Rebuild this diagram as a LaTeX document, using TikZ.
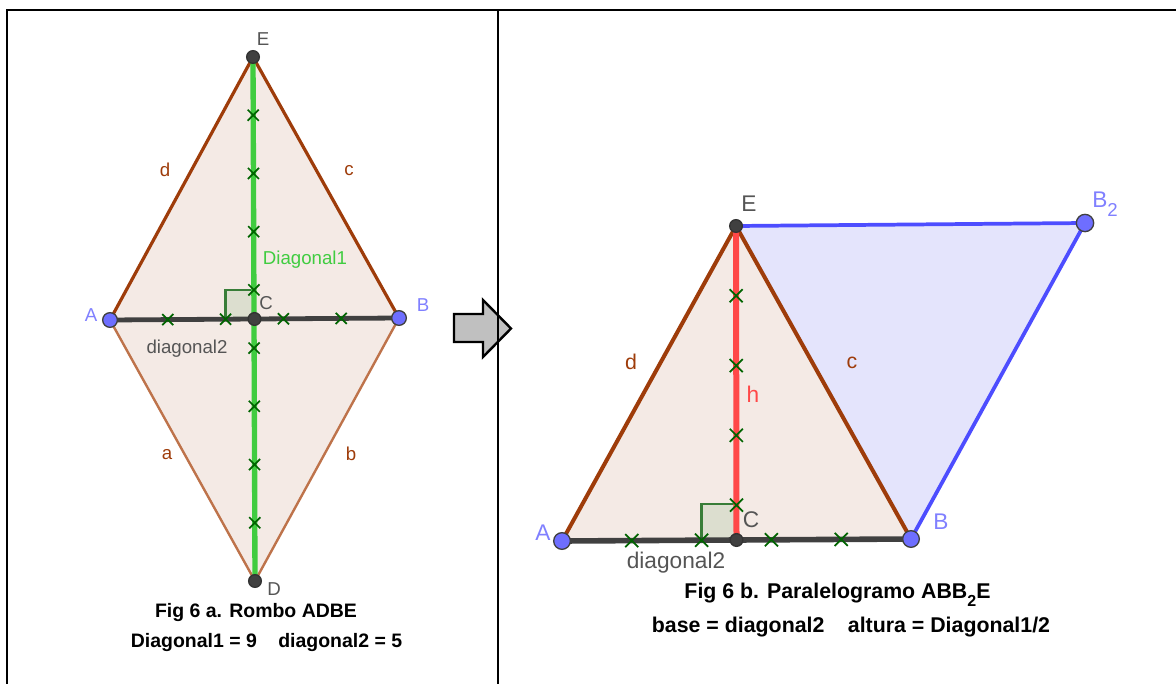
\documentclass[tikz,border=0pt]{standalone}
\usepackage{fontspec}
\setmainfont{Liberation Sans}
\usetikzlibrary{calc,shapes.misc}
\definecolor{edgebrown}{RGB}{158,60,10}
\definecolor{edgelight}{RGB}{190,115,75}
\definecolor{rhombfill}{RGB}{244,234,229}
\definecolor{paralfill}{RGB}{228,228,252}
\definecolor{blueline}{RGB}{77,77,255}
\definecolor{diagreen}{RGB}{64,204,64}
\definecolor{tickgreen}{RGB}{0,100,0}
\definecolor{anglegreen}{RGB}{56,125,56}
\definecolor{sqfill}{RGB}{220,222,207}
\definecolor{basegray}{RGB}{64,64,64}
\definecolor{heightred}{RGB}{255,72,72}
\definecolor{ptblue}{RGB}{110,110,255}
\definecolor{ptdark}{RGB}{64,64,64}
\definecolor{lblblue}{RGB}{128,128,255}
\definecolor{lblgray}{RGB}{85,85,85}
\definecolor{arrowgray}{RGB}{192,192,192}

\begin{document}
\begin{tikzpicture}[
  x=0.75pt, y=-0.75pt,
  font=\fontsize{14}{17}\selectfont,
  rhombedge/.style={draw=edgebrown, line width=2.4pt, line cap=round},
  rhomblow/.style={draw=edgelight, line width=1.8pt, line cap=round},
  paraledge/.style={draw=edgebrown, line width=3pt, line cap=round},
  bluedge/.style={draw=blueline, line width=2.8pt, line cap=round},
  longdiag/.style={draw=diagreen, line width=4pt},
  shortdiag/.style={draw=basegray, line width=3.6pt},
  heightline/.style={draw=heightred, line width=4.5pt},
  xmark/.style={cross out, draw=tickgreen, line width=1.3pt, minimum size=7pt, inner sep=0pt},
  rangle/.style={draw=anglegreen, fill=sqfill, line width=2pt},
  bluept/.style={circle, draw=black!75, fill=ptblue, line width=1pt, inner sep=0pt, minimum size=11pt},
  darkpt/.style={circle, draw=black!80, fill=ptdark, line width=1pt, inner sep=0pt, minimum size=9.5pt},
  vlabel/.style={text=lblgray, inner sep=0pt},
  bluelabel/.style={text=lblblue, inner sep=0pt},
  sidelabel/.style={text=edgebrown, inner sep=0pt},
  biglabel/.style={font=\fontsize{17}{20}\selectfont},
  caption/.style={font=\bfseries\fontsize{14.6}{17}\selectfont, anchor=base, inner sep=0pt},
  bigcaption/.style={caption, font=\bfseries\fontsize{16}{19}\selectfont},
  frame/.style={draw=black, line width=2pt}
]
\useasboundingbox (0,0) rectangle (1176,684);

% Rombo ADBE (left panel)
\coordinate (rA) at (110,320);
\coordinate (rB) at (399,318);
\coordinate (rE) at (253,57);
\coordinate (rD) at (255,581);
\coordinate (rC) at ($(rA)!0.5!(rB)$);

\fill[rhombfill] (rA) -- (rD) -- (rB) -- (rE) -- cycle;
\filldraw[rangle] (rC) rectangle ++(-29,-29);
\draw[rhombedge] (rA) -- (rE) -- (rB);
\draw[rhomblow] (rA) -- (rD) -- (rB);
\draw[longdiag] (rE) -- (rD);
\draw[shortdiag] (rA) -- (rB);
\foreach \k in {1,...,8}
  \node[xmark] (rt\k) at ($(rE)!\k/9!(rD)$) {};
\foreach \k in {1,...,4}
  \node[xmark] (rs\k) at ($(rA)!\k/5!(rB)$) {};

\node[bluept] (ptrA) at (rA) {};
\node[bluept] (ptrB) at (rB) {};
\node[darkpt] (ptrE) at (rE) {};
\node[darkpt] (ptrD) at (rD) {};
\node[darkpt] (ptrC) at (rC) {};

\node[vlabel] (lbrE) at (263,39) {E};
\node[vlabel] (lbrD) at (274,589) {D};
\node[vlabel] (lbrC) at (266,303) {C};
\node[bluelabel] (lbrA) at (91,315) {A};
\node[bluelabel] (lbrB) at (423,305) {B};
\node[sidelabel] (lbrd) at (165,170) {d};
\node[sidelabel] (lbrc) at (349,171) {c};
\node[sidelabel] (lbra) at (167,455) {a};
\node[sidelabel] (lbrb) at (351,454) {b};
\node[text=diagreen, inner sep=0pt] (lbdiag1) at (305,260) {Diagonal1};
\node[vlabel] (lbrdiag2) at (187,349) {diagonal2};

\node[caption] (capa1) at (256,617) {Fig 6 a. Rombo ADBE};
\node[caption] (capa2) at (266.5,647) {Diagonal1 = 9\hspace{1.1em}diagonal2 = 5};

% Paralelogramo ABB2E (right panel)
\coordinate (pA) at (562,541);
\coordinate (pB) at (911,539);
\coordinate (pE) at (736,226);
\coordinate (pBB) at (1085,223);
\coordinate (pC) at ($(pA)!0.5!(pB)$);

\fill[paralfill] (pE) -- (pBB) -- (pB) -- cycle;
\fill[rhombfill] (pA) -- (pE) -- (pB) -- cycle;
\filldraw[rangle] (pC) rectangle ++(-35,-36);
\draw[bluedge] (pE) -- (pBB) -- (pB);
\draw[paraledge] (pA) -- (pE) -- (pB);
\draw[heightline] (pE) -- (pC);
\draw[shortdiag, line width=4.2pt] (pA) -- (pB);
\foreach \k in {1,...,4}{
  \node[xmark, minimum size=8.5pt] (pt\k) at ($(pE)!\k/4.5!(pC)$) {};
  \node[xmark, minimum size=8.5pt] (ps\k) at ($(pA)!\k/5!(pB)$) {};
}

\node[bluept, minimum size=12.5pt] (ptpA) at (pA) {};
\node[bluept, minimum size=12.5pt] (ptpB) at (pB) {};
\node[bluept, minimum size=13pt] (ptpBB) at (pBB) {};
\node[darkpt] (ptpE) at (pE) {};
\node[darkpt] (ptpC) at (pC) {};

\node[vlabel, biglabel] (lbpE) at (749,204) {E};
\node[vlabel, biglabel] (lbpC) at (751,520) {C};
\node[bluelabel, biglabel] (lbpA) at (543,533) {A};
\node[bluelabel, biglabel] (lbpB) at (941,522) {B};
\node[bluelabel, biglabel, anchor=base west] (lbpBB) at (1092,208)
  {B\raisebox{-6pt}{\fontsize{14}{16}\selectfont 2}};
\node[sidelabel, font=\fontsize{16}{19}\selectfont] (lbpd) at (631,362) {d};
\node[sidelabel, font=\fontsize{16}{19}\selectfont] (lbpc) at (852,363) {c};
\node[text=heightred, biglabel, inner sep=0pt] (lbh) at (753,394) {h};
\node[vlabel, biglabel] (lbpdiag2) at (676,563) {diagonal2};

\node[bigcaption] (capb1) at (837.5,598)
  {Fig 6 b. Paralelogramo ABB\raisebox{-6pt}{\fontsize{12}{14}\selectfont 2}E};
\node[bigcaption] (capb2) at (851,632) {base = diagonal2\hspace{1.1em}altura = Diagonal1/2};

% Arrow between the panels and the frame
\filldraw[fill=arrowgray, draw=black, line width=1.8pt, line join=miter]
  (454,314) -- (483,314) -- (483,300) -- (511,328.5) -- (483,357) -- (483,342) -- (454,342) -- cycle;
\draw[frame] (7,684) -- (7,10) -- (1176,10);
\draw[frame] (498,10) -- (498,684);

\end{tikzpicture}
\end{document}
